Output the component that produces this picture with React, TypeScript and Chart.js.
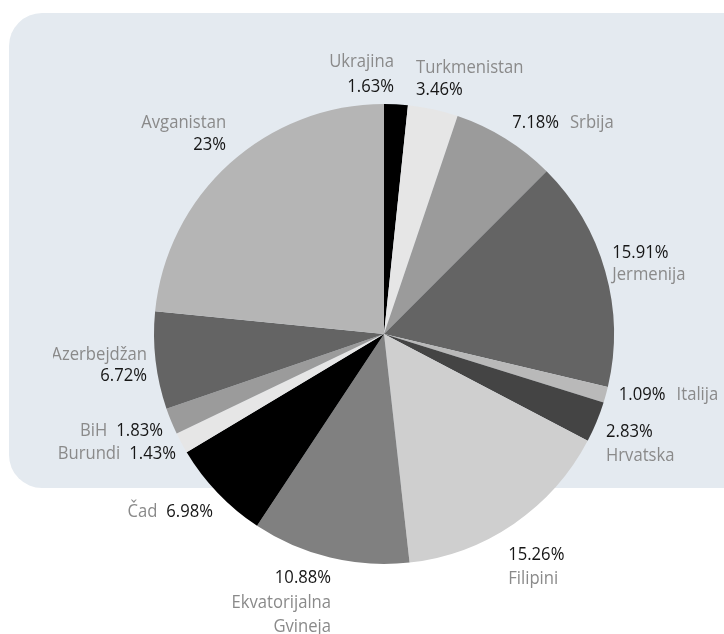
import React, { useEffect, useRef } from "react";
import { Chart, registerables } from "chart.js";

Chart.register(...registerables);

// ---- data ----
const countries = [
  "Ukrajina",
  "Turkmenistan",
  "Srbija",
  "Jermenija",
  "Italija",
  "Hrvatska",
  "Filipini",
  "Ekvatorijalna\nGvineja",
  "Čad",
  "Burundi",
  "BiH",
  "Azerbejdžan",
  "Avganistan",
];
const shares = [1.63, 3.46, 7.18, 15.91, 1.09, 2.83, 15.26, 10.88, 6.98, 1.43, 1.83, 6.72, 23];
const shareLabels = [
  "1.63%", "3.46%", "7.18%", "15.91%", "1.09%", "2.83%", "15.26%",
  "10.88%", "6.98%", "1.43%", "1.83%", "6.72%", "23%",
];
const sliceColors = [
  "#000000", "#e6e6e6", "#9b9b9b", "#646464", "#b9b9b9", "#444444", "#cfcfcf",
  "#808080", "#000000", "#e6e6e6", "#9b9b9b", "#646464", "#b5b5b5",
];

// ---- label layout (offsets from the slice's outer mid point) ----
type Layout = { mode: "name-pct" | "pct-name" | "inline-pct-name" | "inline-name-pct"; align: "left" | "right"; dx: number; dy: number; gap: number };
const labelLayout: Layout[] = [
  { mode: "name-pct", align: "right", dx: -2, dy: -43, gap: 25 },
  { mode: "name-pct", align: "left", dx: -17, dy: -42, gap: 22 },
  { mode: "inline-pct-name", align: "left", dx: 7, dy: -16, gap: 0 },
  { mode: "pct-name", align: "left", dx: 7, dy: -18, gap: 22 },
  { mode: "inline-pct-name", align: "left", dx: 13, dy: 0, gap: 0 },
  { mode: "pct-name", align: "left", dx: 9.5, dy: 10, gap: 24 },
  { mode: "pct-name", align: "left", dx: -5.6, dy: 31, gap: 24 },
  { mode: "pct-name", align: "right", dx: 1, dy: 20.4, gap: 24.5 },
  { mode: "inline-name-pct", align: "right", dx: -4.7, dy: 19, gap: 0 },
  { mode: "inline-name-pct", align: "right", dx: -5.5, dy: 11, gap: 0 },
  { mode: "inline-name-pct", align: "right", dx: -8.2, dy: 9.7, gap: 0 },
  { mode: "name-pct", align: "right", dx: -8.5, dy: -5.4, gap: 21 },
  { mode: "name-pct", align: "right", dx: -3.5, dy: -40.6, gap: 22 },
];

const NAME_COLOR = "#8a8a8a";
const PCT_COLOR = "#161616";
const FONT = "18.5px 'Open Sans', sans-serif";
const SX = 0.9;

const labelPlugin = {
  id: "sliceLabels",
  afterDatasetsDraw(chart: any) {
    const ctx: CanvasRenderingContext2D = chart.ctx;
    const meta = chart.getDatasetMeta(0);
    ctx.save();
    ctx.beginPath();
    ctx.rect(53, 0, chart.width, chart.height);
    ctx.clip();
    ctx.font = FONT;
    ctx.textBaseline = "middle";
    const w = (t: string) => ctx.measureText(t).width * SX;
    const draw = (t: string, x: number, y: number, align: "left" | "right", color: string) => {
      ctx.save();
      ctx.translate(x, y);
      ctx.scale(SX, 1);
      ctx.textAlign = align;
      ctx.fillStyle = color;
      ctx.fillText(t, 0, 0);
      ctx.restore();
    };
    meta.data.forEach((arc: any, i: number) => {
      const p = arc.getProps(["x", "y", "startAngle", "endAngle", "outerRadius"], true);
      const mid = (p.startAngle + p.endAngle) / 2;
      const ax = p.x + Math.cos(mid) * p.outerRadius;
      const ay = p.y + Math.sin(mid) * p.outerRadius;
      const L = labelLayout[i];
      const px = ax + L.dx;
      const py = ay + L.dy;
      const nameLines = countries[i].split("\n");
      const pct = shareLabels[i];
      if (L.mode === "inline-pct-name") {
        draw(pct, px, py, "left", PCT_COLOR);
        draw(nameLines.join(" "), px + w(pct) + 11, py, "left", NAME_COLOR);
      } else if (L.mode === "inline-name-pct") {
        draw(pct, px, py, "right", PCT_COLOR);
        draw(nameLines.join(" "), px - w(pct) - 9, py, "right", NAME_COLOR);
      } else {
        const lines: [string, string][] =
          L.mode === "pct-name"
            ? [[pct, PCT_COLOR], ...nameLines.map((n) => [n, NAME_COLOR] as [string, string])]
            : [...nameLines.map((n) => [n, NAME_COLOR] as [string, string]), [pct, PCT_COLOR]];
        lines.forEach(([t, c], k) => draw(t, px, py + k * L.gap, L.align, c));
      }
    });
    ctx.restore();
  },
};

export default function App() {
  const ref = useRef<HTMLCanvasElement | null>(null);
  useEffect(() => {
    if (!ref.current) return;
    const chart = new Chart(ref.current, {
      type: "pie",
      data: {
        labels: countries,
        datasets: [
          {
            data: shares,
            backgroundColor: sliceColors,
            borderWidth: 0,
            hoverOffset: 0,
            offset: 0,
          },
        ],
      },
      options: {
        responsive: false,
        maintainAspectRatio: false,
        animation: false,
        events: [],
        layout: { padding: { left: 154, right: 110, top: 104, bottom: 70 } },
        plugins: {
          legend: { display: false },
          tooltip: { enabled: false },
        },
      },
      plugins: [labelPlugin],
    });
    return () => chart.destroy();
  }, []);

  return (
    <div style={{ position: "fixed", left: 0, top: 0, width: 724, height: 634, overflow: "hidden", background: "#ffffff" }}>
      <div
        style={{
          position: "absolute",
          left: 9,
          top: 13,
          width: 780,
          height: 475,
          borderRadius: 33,
          background: "#e4eaf0",
        }}
      />
      <canvas ref={ref} width={724} height={634} style={{ position: "absolute", left: 0, top: 0, width: 724, height: 634 }} />
    </div>
  );
}
